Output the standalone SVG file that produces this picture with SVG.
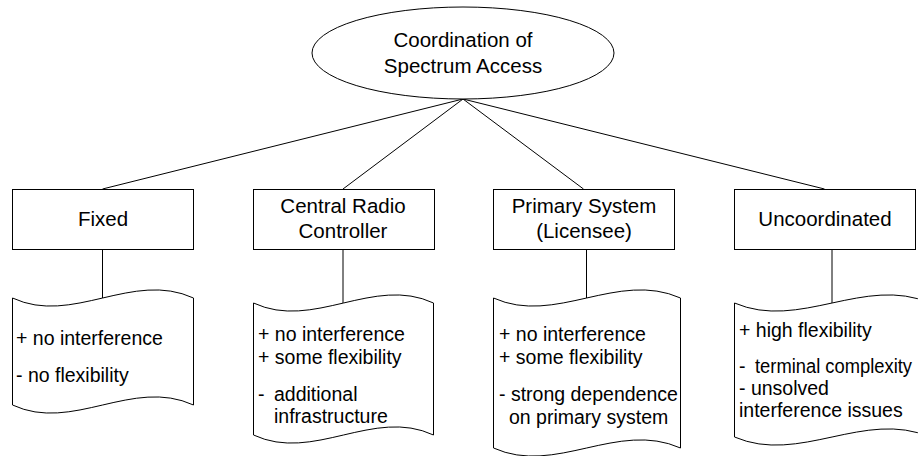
<svg xmlns="http://www.w3.org/2000/svg" width="918" height="456" viewBox="0 0 918 456">
  <style>
    .shape { fill: #ffffff; stroke: #000000; stroke-width: 1; }
    .link { fill: none; stroke: #000000; stroke-width: 1; }
    .title { font-family: "Liberation Sans", Arial, sans-serif; font-size: 20.5px; fill: #000000; text-anchor: middle; }
    .note { font-family: "Liberation Sans", Arial, sans-serif; font-size: 19.5px; fill: #000000; }
  </style>
  <rect width="918" height="456" fill="#ffffff"/>

  <!-- tree connectors: root to categories, categories to their notes -->
  <g id="connectors">
    <line class="link" x1="463" y1="99" x2="102.5" y2="189"/>
    <line class="link" x1="463" y1="99" x2="343" y2="189"/>
    <line class="link" x1="463" y1="99" x2="583.5" y2="189"/>
    <line class="link" x1="463" y1="99" x2="824.5" y2="189"/>
    <line class="link" x1="102.5" y1="249" x2="102.5" y2="298"/>
    <line class="link" x1="343" y1="249" x2="343" y2="303"/>
    <line class="link" x1="586.5" y1="249" x2="586.5" y2="298"/>
    <line class="link" x1="832" y1="249" x2="832" y2="303"/>
  </g>

  <!-- root -->
  <g id="root">
    <ellipse class="shape" cx="463" cy="53" rx="151" ry="46"/>
    <text class="title" x="463" y="47">Coordination of</text>
    <text class="title" x="463" y="73">Spectrum Access</text>
  </g>

  <!-- categories -->
  <g id="fixed">
    <rect class="shape" x="12.5" y="189.5" width="181" height="60"/>
    <text class="title" x="103" y="226">Fixed</text>
  </g>
  <g id="central">
    <rect class="shape" x="253.5" y="189.5" width="181" height="60"/>
    <text class="title" x="343" y="213">Central Radio</text>
    <text class="title" x="343" y="238">Controller</text>
  </g>
  <g id="primary">
    <rect class="shape" x="493.5" y="189.5" width="181" height="60"/>
    <text class="title" x="584" y="213">Primary System</text>
    <text class="title" x="584" y="238">(Licensee)</text>
  </g>
  <g id="uncoordinated">
    <rect class="shape" x="734.5" y="189.5" width="181" height="60"/>
    <text class="title" x="825" y="226">Uncoordinated</text>
  </g>

  <!-- notes (wavy document shapes) -->
  <g id="fixed-notes">
    <path class="shape" d="M12.5,298 C72.5,326 132.5,270 193.5,298 L193.5,405 C132.5,377 72.5,433 12.5,405 Z"/>
    <text class="note" x="16" y="345">+ no interference</text>
    <text class="note" x="16" y="382">- no flexibility</text>
  </g>
  <g id="central-notes">
    <path class="shape" d="M253.5,303 C313.5,331 373.5,275 433.5,303 L433.5,435 C373.5,407 313.5,463 253.5,435 Z"/>
    <text class="note" x="258" y="341">+ no interference</text>
    <text class="note" x="258" y="364">+ some flexibility</text>
    <text class="note" y="401"><tspan x="258">-</tspan><tspan x="274">additional</tspan></text>
    <text class="note" x="274" y="423">infrastructure</text>
  </g>
  <g id="primary-notes">
    <path class="shape" d="M493.5,298 C555.5,326 617.5,270 680.5,298 L680.5,448 C617.5,420 555.5,476 493.5,448 Z"/>
    <text class="note" x="499" y="341">+ no interference</text>
    <text class="note" x="499" y="364">+ some flexibility</text>
    <text class="note" x="499" y="401">- strong dependence</text>
    <text class="note" x="509" y="424">on primary system</text>
  </g>
  <g id="uncoordinated-notes">
    <path class="shape" d="M734.5,303 C799.5,331 864.5,275 930,303 L930,437 C864.5,409 799.5,465 734.5,437 Z"/>
    <text class="note" x="739" y="337">+ high flexibility</text>
    <text class="note" y="373"><tspan x="739">-</tspan><tspan x="755" textLength="157" lengthAdjust="spacingAndGlyphs">terminal complexity</tspan></text>
    <text class="note" x="739" y="395">- unsolved</text>
    <text class="note" x="739" y="417">interference issues</text>
  </g>
</svg>
